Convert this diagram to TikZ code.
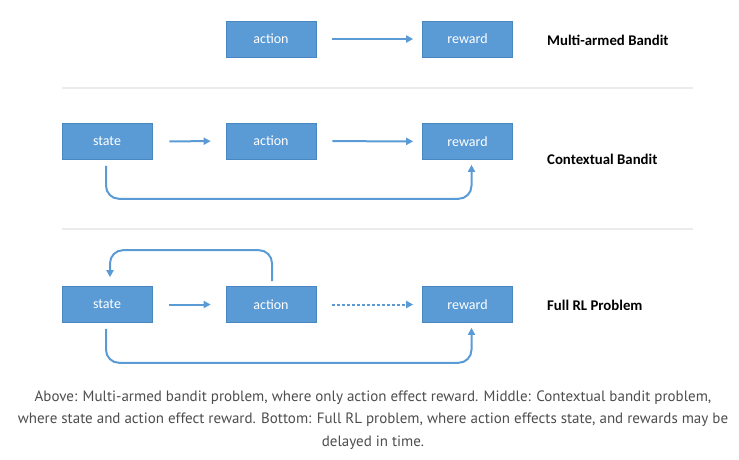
\documentclass[tikz,border=0pt]{standalone}
\usepackage{fontspec}
\setmainfont{Carlito}
\newfontfamily\capfont{PT Sans}
\usetikzlibrary{arrows.meta}
\definecolor{boxblue}{HTML}{5B9BD5}
\definecolor{boxedge}{HTML}{4A86C0}
\definecolor{sepgray}{HTML}{EBEBEB}
\definecolor{capgray}{HTML}{4D4D4D}
\tikzset{
  box/.style={rectangle, fill=boxblue, draw=boxedge, line width=0.6pt, minimum width=90pt, minimum height=36pt, inner sep=0pt, text=white, font=\fontsize{14}{16}\selectfont},
  link/.style={draw=boxblue, line width=2pt, -{Triangle[length=7pt,width=7pt]}},
  dotlink/.style={link, dash pattern=on 2.4pt off 2.6pt},
  title/.style={anchor=west, font=\bfseries\fontsize{14.8}{17}\selectfont, inner sep=0pt},
  sep/.style={draw=sepgray, line width=1.2pt}
}
\begin{document}
\begin{tikzpicture}[x=1pt,y=-1pt]
\useasboundingbox (0,0) rectangle (739,459);
% row 1
\node[box] (a1) at (271,39) {action};
\node[box] (r1) at (467.5,39) {reward};
\node[title] (t1) at (547,40) {Multi-armed Bandit};
\draw[link, shorten <=16pt, shorten >=9pt] (a1) -- (r1);
\coordinate (l1a) at (62,88);
\coordinate (l1b) at (693,88);
\draw[sep] (l1a) -- (l1b);
% row 2
\node[box] (s2) at (107,141.5) {state};
\node[box] (a2) at (271,141) {action};
\node[box] (r2) at (467.5,141.5) {reward};
\node[title] (t2) at (547,159) {Contextual Bandit};
\draw[link, shorten <=17pt, shorten >=15pt] (s2) -- (a2);
\draw[link, shorten <=16pt, shorten >=9pt] (a2) -- (r2);
\draw[link, rounded corners=13pt] ([xshift=-1pt,yshift=-6pt]s2.south) -- ++(0,33) -| ([xshift=4pt,yshift=-5pt]r2.south);
\coordinate (l2a) at (62,229);
\coordinate (l2b) at (693,229);
\draw[sep] (l2a) -- (l2b);
% row 3
\node[box] (s3) at (107,304.5) {state};
\node[box] (a3) at (271,304.5) {action};
\node[box] (r3) at (467.5,304.5) {reward};
\node[title] (t3) at (547,305) {Full RL Problem};
\draw[link, shorten <=17pt, shorten >=15pt] (s3) -- (a3);
\draw[dotlink, shorten <=16pt, shorten >=9pt] (a3) -- (r3);
\draw[link, rounded corners=13pt] ([xshift=1pt,yshift=5pt]a3.north) -- ++(0,-31) -| ([xshift=3pt,yshift=9pt]s3.north);
\draw[link, rounded corners=13pt] ([xshift=-1pt,yshift=-6pt]s3.south) -- ++(0,34) -| ([xshift=4pt,yshift=-5pt]r3.south);
% caption
\node[align=center, text=capgray, font=\capfont\fontsize{15}{22.5}\selectfont, inner sep=0pt] (cap) at (373,420)
{Above: Multi-armed bandit problem, where only action effect reward. Middle: Contextual bandit problem,\\
where state and action effect reward. Bottom: Full RL problem, where action effects state, and rewards may be\\
delayed in time.};
\end{tikzpicture}
\end{document}
